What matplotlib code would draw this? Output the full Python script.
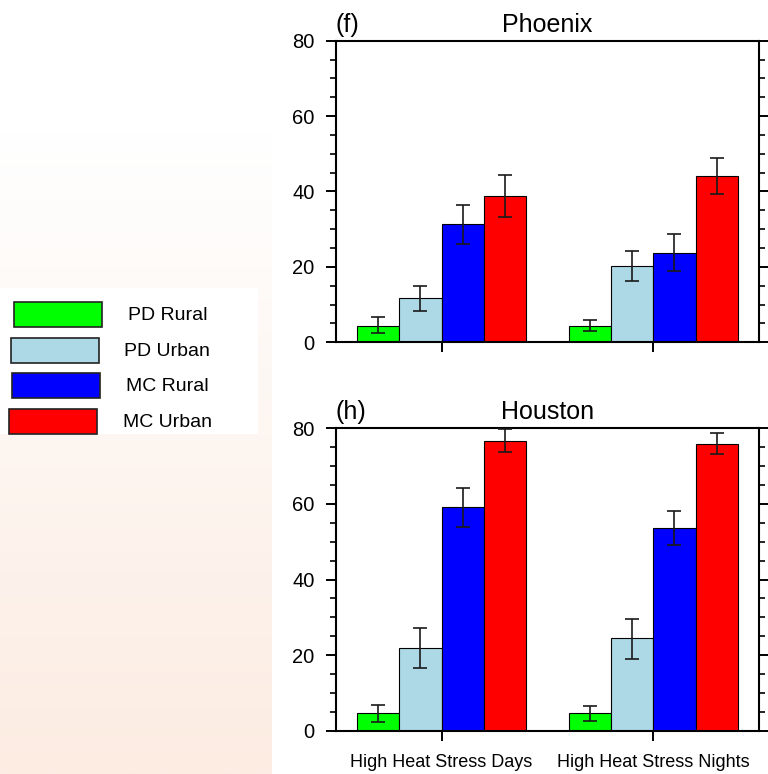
import numpy as np
import matplotlib
matplotlib.use('Agg')
import matplotlib.pyplot as plt
from matplotlib.patches import Rectangle
from matplotlib.ticker import MultipleLocator

plt.rcParams['font.family'] = ['Liberation Sans', 'DejaVu Sans']

groups = ['High Heat Stress Days', 'High Heat Stress Nights']
series = ['PD Rural', 'PD Urban', 'MC Rural', 'MC Urban']
colors = ['#00ff00', '#add8e6', '#0000ff', '#ff0000']

# Phoenix: bar height and error bar bounds, one entry per series
phoenix_days = [4.4, 11.7, 31.3, 38.7]
phoenix_days_lo = [2.4, 8.3, 26.2, 33.2]
phoenix_days_hi = [6.7, 15.0, 36.5, 44.5]
phoenix_nights = [4.4, 20.3, 23.8, 44.0]
phoenix_nights_lo = [3.0, 16.3, 19.0, 39.3]
phoenix_nights_hi = [6.0, 24.2, 28.6, 48.9]

# Houston
houston_days = [4.6, 21.8, 59.2, 76.7]
houston_days_lo = [2.3, 16.5, 54.0, 73.8]
houston_days_hi = [6.9, 27.1, 64.3, 79.7]
houston_nights = [4.6, 24.4, 53.7, 75.9]
houston_nights_lo = [2.6, 19.1, 49.1, 73.1]
houston_nights_hi = [6.5, 29.6, 58.2, 78.7]

panels = [
    ('(f)', 'Phoenix', [phoenix_days, phoenix_nights],
     [phoenix_days_lo, phoenix_nights_lo], [phoenix_days_hi, phoenix_nights_hi]),
    ('(h)', 'Houston', [houston_days, houston_nights],
     [houston_days_lo, houston_nights_lo], [houston_days_hi, houston_nights_hi]),
]

W, H = 768, 774
fig = plt.figure(figsize=(W / 100, H / 100), dpi=100)

# background strip with the soft gradient and the legend
bg = fig.add_axes([0, 0, 1, 1], zorder=-1)
bg.set_xlim(0, W)
bg.set_ylim(H, 0)
bg.axis('off')
t = np.linspace(0, 1, 256)[:, None]
top = np.array([1.0, 1.0, 1.0])
bot = np.array([252, 236, 226]) / 255.0
img = (top + (bot - top) * t)[:, None, :]
bg.imshow(img, extent=[0, 272, H, 130], aspect='auto', interpolation='bilinear')
bg.add_patch(Rectangle((0, 288), 258, 146, facecolor='white', edgecolor='none'))
key_x = [14, 10.7, 12.3, 9]
key_y = [302, 337.7, 373, 409]
txt_x = [127.7, 124.3, 126, 122.7]
for i, name in enumerate(series):
    bg.add_patch(Rectangle((key_x[i], key_y[i]), 88, 25, facecolor=colors[i],
                           edgecolor='#222222', linewidth=1.2))
    bg.text(txt_x[i], key_y[i] + 13.5, name, fontsize=14, va='center', ha='left')

axes_pos = [[335.7 / W, 1 - 342.3 / H, 423.3 / W, 301.6 / H],
            [335.7 / W, 1 - 730.7 / H, 423.3 / W, 302.4 / H]]

x = np.arange(1, len(groups) + 1)
width = 0.2
for k, (tag, city, vals, lo, hi) in enumerate(panels):
    ax = fig.add_axes(axes_pos[k])
    for i in range(len(series)):
        v = np.array([vals[g][i] for g in range(len(groups))])
        l = np.array([lo[g][i] for g in range(len(groups))])
        h = np.array([hi[g][i] for g in range(len(groups))])
        xs = x + (i - 1.5) * width
        ax.bar(xs, v, width, color=colors[i], edgecolor='black', linewidth=0.8, zorder=2)
        ax.errorbar(xs, v, yerr=[v - l, h - v], fmt='none', ecolor='#1a1a1a',
                    elinewidth=1.2, capsize=4.7, capthick=1.2, zorder=3)
    ax.set_xlim(0.5, 2.5)
    ax.set_ylim(0, 80)
    ax.yaxis.set_major_locator(MultipleLocator(20))
    ax.yaxis.set_minor_locator(MultipleLocator(5))
    ax.yaxis.set_ticks_position('both')
    ax.set_xticks(x)
    if k == 1:
        ax.set_xticklabels(groups, fontsize=13)
    else:
        ax.set_xticklabels([])
    ax.tick_params(axis='both', which='major', direction='out', length=7.2, width=1.4)
    ax.tick_params(axis='y', which='major', labelsize=14.5, pad=8)
    ax.tick_params(axis='x', which='major', pad=9.5)
    ax.tick_params(axis='y', which='minor', direction='out', length=4, width=1.2)
    ax.tick_params(axis='x', which='minor', bottom=False, top=False)
    for s in ax.spines.values():
        s.set_linewidth(1.5)
    ax.set_title(city, fontsize=18, pad=6.5)
    ax.set_title(tag, fontsize=18, loc='left', pad=6.5)

plt.savefig('out.png', dpi=100)
